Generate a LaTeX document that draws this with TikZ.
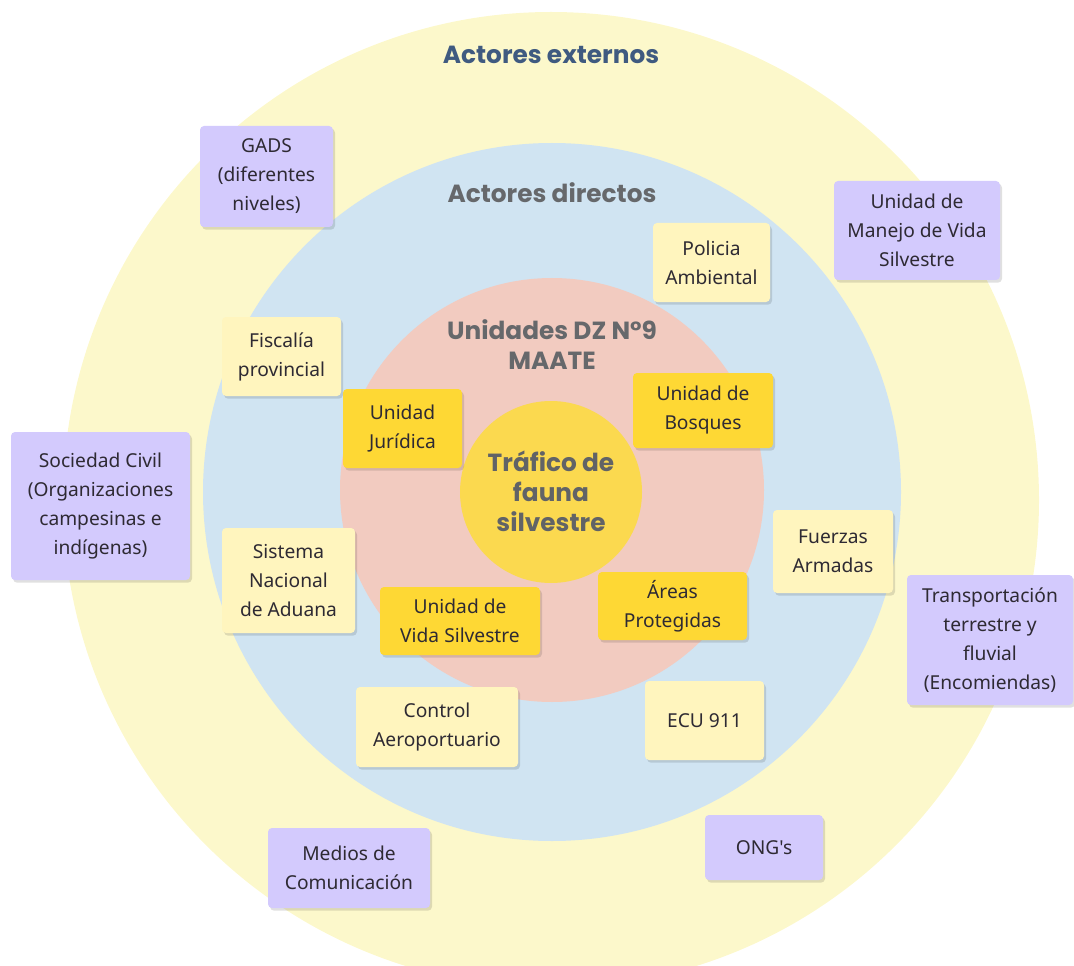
\documentclass[tikz,border=0pt]{standalone}
\usepackage{fontspec}
\setmainfont{Noto Sans}
\newfontfamily\titlefont{Poppins}
\newfontfamily\sinmapa{Noto Sans}[Ligatures=TeXOff]
\usepackage{xcolor}
\usepackage{tikz}
\usetikzlibrary{shapes, shadows, positioning}

\definecolor{externo}{HTML}{FCF8CB}
\definecolor{directo}{HTML}{D0E4F2}
\definecolor{unidad}{HTML}{F2CBC0}
\definecolor{centro}{HTML}{FBD94F}
\definecolor{notaclara}{HTML}{FFF5BE}
\definecolor{notaoro}{HTML}{FED834}
\definecolor{notalila}{HTML}{D3CAFD}
\definecolor{textonota}{HTML}{2E2A33}
\definecolor{tituloazul}{HTML}{3F5A80}
\definecolor{titulogris}{HTML}{66686B}

\begin{document}
\begin{tikzpicture}[x=0.75pt, y=-0.75pt,
    nota/.style={rectangle, rounded corners=3pt, align=center, inner sep=2pt,
        text=textonota, font=\fontsize{14.4}{21.75}\selectfont,
        drop shadow={shadow xshift=1.5pt, shadow yshift=-2pt, opacity=0.12, fill=black}},
    titulo/.style={font=\titlefont\bfseries\fontsize{18.6}{22.5}\selectfont, align=center}]
        \useasboundingbox (0,0) rectangle (1074,966);
        \clip (0,0) rectangle (1074,966);

        % Circles
        \fill[externo] (551,500) circle[radius=366pt];
        \fill[directo] (552,492) circle[radius=261.75pt];
        \fill[unidad] (552,490) circle[radius=159pt];
        \fill[centro] (551,492) circle[radius=68.25pt];

        % Titles
        \node[titulo, text=tituloazul] (externos) at (551,55) {Actores externos};
        \node[titulo, text=titulogris] (directos) at (552,193) {Actores directos};
        \node[titulo, text=titulogris] (unidades) at (552,345) {Unidades DZ N°9\\MAATE};
        \node[titulo, text=titulogris!95!black] (trafico) at (551,491) {Tráfico de\\fauna\\silvestre};

        % External actors
        \node[nota, fill=notalila, minimum width=99.75pt, minimum height=75.75pt] (gads) at (266.5,176.5) {GADS\\(diferentes\\niveles)};
        \node[nota, fill=notalila, minimum width=124.5pt, minimum height=74.25pt] (manejo) at (917,230.5) {Unidad de\\Manejo de Vida\\Silvestre};
        \node[nota, fill=notalila, minimum width=134.25pt, minimum height=111pt] (sociedad) at (100.5,506) {Sociedad Civil\\(Organizaciones\\campesinas e\\indígenas)};
        \node[nota, fill=notalila, minimum width=124.5pt, minimum height=97.5pt] (transporte) at (990,640) {Transportación\\terrestre y\\fluvial\\(Encomiendas)};
        \node[nota, fill=notalila, minimum width=121.5pt, minimum height=60pt] (medios) at (349,868) {Medios de\\Comunicación};
        \node[nota, fill=notalila, minimum width=88.5pt, minimum height=48.75pt] (ong) at (764,847.5) {\sinmapa ONG's};

        % Direct actors
        \node[nota, fill=notaclara, minimum width=87.75pt, minimum height=59.25pt] (policia) at (711.5,262.5) {Policia\\Ambiental};
        \node[nota, fill=notaclara, minimum width=89.25pt, minimum height=59.25pt] (fiscalia) at (281.5,356.5) {Fiscalía\\provincial};
        \node[nota, fill=notaclara, minimum width=99.75pt, minimum height=78.75pt] (aduana) at (288.5,580.5) {Sistema\\Nacional\\de Aduana};
        \node[nota, fill=notaclara, minimum width=90pt, minimum height=62.25pt] (fuerzas) at (833,551.5) {Fuerzas\\Armadas};
        \node[nota, fill=notaclara, minimum width=121.5pt, minimum height=60pt] (aeropuerto) at (437,727) {Control\\Aeroportuario};
        \node[nota, fill=notaclara, minimum width=89.25pt, minimum height=59.25pt] (ecu) at (704.5,720.5) {ECU 911};

        % MAATE units
        \node[nota, fill=notaoro, minimum width=89.25pt, minimum height=59.25pt] (juridica) at (402.5,428.5) {Unidad\\Jurídica};
        \node[nota, fill=notaoro, minimum width=105pt, minimum height=56.25pt] (bosques) at (703,410.5) {Unidad de\\Bosques};
        \node[nota, fill=notaoro, minimum width=120pt, minimum height=51pt] (vida) at (460,621) {Unidad de\\Vida Silvestre};
        \node[nota, fill=notaoro, minimum width=111.75pt, minimum height=51pt] (areas) at (672.5,606) {Áreas\\Protegidas};
    \end{tikzpicture}
\end{document}
